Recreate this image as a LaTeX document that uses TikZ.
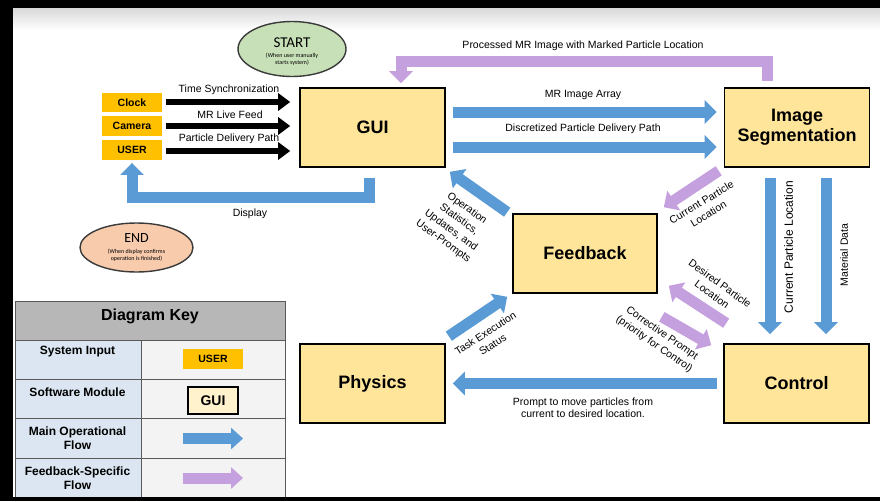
\documentclass[tikz,border=0pt]{standalone}
\usepackage{fontspec}
\setmainfont{Liberation Sans}
\newfontfamily\calibfont{Carlito}
\usetikzlibrary{arrows.meta,calc,shapes.geometric}
\definecolor{modfill}{HTML}{FFE599}
\definecolor{inpfill}{HTML}{FFC000}
\definecolor{flowblue}{HTML}{5B9BD5}
\definecolor{flowpurple}{HTML}{C5A0DE}
\definecolor{startfill}{HTML}{C8E0B8}
\definecolor{endfill}{HTML}{F8CBAD}
\definecolor{keyhead}{HTML}{B7B7B7}
\definecolor{keyblue}{HTML}{DCE6F2}
\definecolor{keygray}{HTML}{F3F3F3}
\definecolor{keyline}{HTML}{595959}
\definecolor{keyguifill}{HTML}{FFF2CC}
\definecolor{ovalline}{HTML}{3A3A3A}
\begin{document}
\begin{tikzpicture}[x=1pt,y=-1pt,
  module/.style={draw=black, line width=1.6pt, fill=modfill, minimum width=145pt, minimum height=79pt, inner sep=0pt, align=center, font=\fontsize{18}{20}\selectfont\bfseries},
  inbox/.style={fill=inpfill, minimum width=60pt, minimum height=19.5pt, inner sep=0pt, font=\fontsize{10.5}{12}\selectfont\bfseries},
  lbl/.style={inner sep=1pt, align=center, font=\fontsize{10.5}{12.5}\selectfont},
  dlbl/.style={inner sep=1pt, align=center, font=\fontsize{10.5}{13.5}\selectfont},
  keytxt/.style={inner sep=0pt, align=center, font=\fontsize{12}{14}\selectfont\bfseries},
  ovalnode/.style={ellipse, draw=ovalline, line width=1.4pt, inner sep=0pt},
  blackflow/.style={draw=black, line width=6pt, -{Triangle[width=17pt,length=12pt]}},
  blueflow/.style={draw=flowblue, line width=11pt, line join=miter, -{Triangle[width=23pt,length=12pt]}},
  purpleflow/.style={draw=flowpurple, line width=11pt, line join=miter, -{Triangle[width=23pt,length=12pt]}},
]
\useasboundingbox (0,0) rectangle (880,501);
\fill[white] (0,0) rectangle (880,501);
\shade[top color=black!15, bottom color=white] (13,8) rectangle (880,30);

% start / end
\node[ovalnode, fill=startfill, minimum width=108pt, minimum height=55pt] (start) at (292,49) {};
\node[font=\calibfont\fontsize{15}{16}\selectfont, inner sep=0pt] (starttitle) at (292,42.5) {START};
\node[font=\calibfont\fontsize{6}{7}\selectfont, align=center, inner sep=0pt] (startsub) at (292,59) {(When user manually\\starts system)};
\node[ovalnode, fill=endfill, minimum width=113pt, minimum height=49pt] (endn) at (136.5,247.5) {};
\node[font=\calibfont\fontsize{14}{15}\selectfont, inner sep=0pt] (endtitle) at (136.5,238) {END};
\node[font=\calibfont\fontsize{6}{7}\selectfont, align=center, inner sep=0pt] (endsub) at (136.5,255) {(When display confirms\\operation is finished)};

% modules
\node[module] (gui) at (372.5,127.5) {GUI};
\node[module] (seg) at (797,127.5) {Image\\Segmentation};
\node[module, minimum width=144pt] (fb) at (585,253.5) {Feedback};
\node[module] (phys) at (372.5,383.5) {Physics};
\node[module] (ctrl) at (796.5,383.5) {Control};

% inputs
\node[inbox] (clock) at (132,102.5) {Clock};
\node[inbox] (camera) at (132,126) {Camera};
\node[inbox] (user) at (132,150) {USER};

% black input arrows
\draw[blackflow] ($(clock.east)+(4,-0.5)$) -- ($(gui.west|-clock.east)+(-9,-0.5)$);
\draw[blackflow] ($(camera.east)+(4,0)$) -- ($(gui.west|-camera.east)+(-9,0)$);
\draw[blackflow] ($(user.east)+(4,1)$) -- ($(gui.west|-user.east)+(-9,1)$);
\node[lbl] (timelbl) at (229,90) {Time Synchronization};
\node[lbl] (mrlivelbl) at (230,115) {MR Live Feed};
\node[lbl] (pdplbl) at (229,138.5) {Particle Delivery Path};

% display loop
\draw[blueflow] ($(gui.south)+(-3.5,10)$) |- ($(user.south)+(0,37.5)$) -- ($(user.south)+(0,3)$);
\node[lbl] (displbl) at (250,214) {Display};

% processed image loop
\draw[purpleflow] ($(seg.north)+(-29.5,-6)$) |- ($(gui.north)+(28.5,-26)$) -- ($(gui.north)+(28.5,-4)$);
\node[lbl] (proclbl) at (583,46) {Processed MR Image with Marked Particle Location};

% gui -> seg
\draw[blueflow] ($(gui.east)+(7,-15.5)$) -- ($(seg.west)+(-7,-15.5)$);
\draw[blueflow] ($(gui.east)+(7,19.5)$) -- ($(seg.west)+(-7,19.5)$);
\node[lbl] (mrlbl) at (583,94.5) {MR Image Array};
\node[lbl] (disclbl) at (583,128.5) {Discretized Particle Delivery Path};

% seg -> control
\draw[blueflow] ($(seg.south)+(-27,10)$) -- ($(ctrl.north)+(-26.5,-9)$);
\draw[blueflow] ($(seg.south)+(29,10)$) -- ($(ctrl.north)+(29.5,-9)$);
\node[inner sep=1pt, font=\fontsize{12}{14}\selectfont, rotate=90] (curvert) at (788.5,247) {Current Particle Location};
\node[lbl, rotate=90] (matlbl) at (844,255) {Material Data};

% control -> physics
\draw[blueflow] ($(ctrl.west)+(-6,0)$) -- ($(phys.east)+(7,0)$);
\node[lbl] (promptlbl) at (583,407.5) {Prompt to move particles from\\current to desired location.};

% diagonals
\draw[blueflow] ($(fb.north west)+(-5,-1)$) -- ($(gui.south east)+(4,4)$);
\node[dlbl, rotate=-36] (opstats) at (455,225) {Operation\\Statistics,\\Updates, and\\User-Prompts};
\draw[blueflow] ($(phys.north east)+(3,-7)$) -- ($(fb.south west)+(-5,3)$);
\node[dlbl, rotate=33] (tasklbl) at (489,339) {Task Execution\\Status};
\draw[purpleflow] ($(seg.south west)+(-5,3)$) -- ($(fb.north east)+(6,-6)$);
\node[dlbl, rotate=31] (curlbl) at (705,208) {Current Particle\\Location};
\draw[purpleflow] ($(ctrl.north west)+(3,-20)$) -- ($(fb.south east)+(11,-8)$);
\node[dlbl, rotate=-36] (deslbl) at (716,289) {Desired Particle\\Location};
\draw[purpleflow] ($(fb.south east)+(4,23)$) -- ($(ctrl.north west)+(-12,2)$);
\node[dlbl, rotate=-35] (corrlbl) at (658,339) {Corrective Prompt\\(priority for Control)};

% key
\fill[keyhead] (15,301) rectangle (285,340);
\fill[keyblue] (15,340) rectangle (141,497);
\fill[keygray] (141,340) rectangle (285,497);
\draw[keyline, line width=1pt] (15,301) rectangle (285,497)
  (15,340) -- (285,340) (15,379) -- (285,379) (15,418.5) -- (285,418.5) (15,458) -- (285,458)
  (141,340) -- (141,497);
\node[inner sep=0pt, font=\fontsize{16}{18}\selectfont\bfseries] (keytitle) at (150,316) {Diagram Key};
\node[keytxt] (k1) at (77.5,352) {System Input};
\node[keytxt] (k2) at (77.5,392) {Software Module};
\node[keytxt] (k3) at (77.5,438) {Main Operational\\Flow};
\node[keytxt] (k4) at (77.5,478) {Feedback-Specific\\Flow};
\node[inbox, minimum height=20pt] (keyuser) at (213,359) {USER};
\node[draw=black, line width=1.6pt, fill=keyguifill, minimum width=50pt, minimum height=27pt, inner sep=0pt, font=\fontsize{14}{15}\selectfont\bfseries] (keygui) at (213,400.5) {GUI};
\coordinate (kb1) at (183,438.5);
\coordinate (kb2) at (243,438.5);
\draw[blueflow, -{Triangle[width=21pt,length=12pt]}] (kb1) -- (kb2);
\coordinate (kp1) at (183,478);
\coordinate (kp2) at (243,478);
\draw[purpleflow, -{Triangle[width=21pt,length=12pt]}] (kp1) -- (kp2);

% black frame
\fill[black] (0,0) rectangle (880,8);
\fill[black] (0,0) rectangle (13,501);
\fill[black] (0,497) rectangle (880,501);
\end{tikzpicture}
\end{document}
